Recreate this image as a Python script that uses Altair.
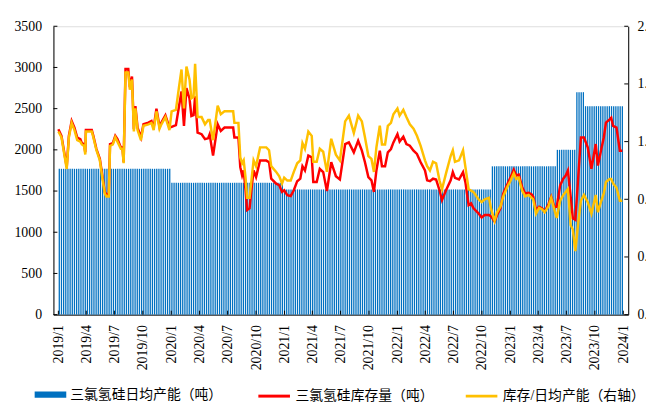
import altair as alt
import pandas as pd

# ---------------- data ----------------
series_names = ["三氯氢硅日均产能（吨）", "三氯氢硅库存量（吨）", "库存/日均产能（右轴）"]

line_dates = [
    "2019-01-01", "2019-01-11", "2019-01-28", "2019-02-04", "2019-02-13", "2019-02-22", "2019-03-03",
    "2019-03-13", "2019-03-18", "2019-03-25", "2019-03-29", "2019-03-31", "2019-04-19", "2019-04-24",
    "2019-05-04", "2019-05-15", "2019-05-23", "2019-05-31", "2019-06-05", "2019-06-13", "2019-06-17",
    "2019-06-26", "2019-07-04", "2019-07-11", "2019-07-22", "2019-07-27", "2019-07-31", "2019-08-06",
    "2019-08-15", "2019-08-20", "2019-08-27", "2019-09-02", "2019-09-07", "2019-09-14", "2019-09-25",
    "2019-10-03", "2019-10-19", "2019-10-29", "2019-11-05", "2019-11-14", "2019-11-24", "2019-11-30",
    "2019-12-13", "2019-12-26", "2020-01-02", "2020-01-16", "2020-01-26", "2020-02-03", "2020-02-11",
    "2020-02-19", "2020-02-29", "2020-03-06", "2020-03-13", "2020-03-18", "2020-03-26", "2020-04-08",
    "2020-04-19", "2020-04-29", "2020-05-04", "2020-05-15", "2020-05-30", "2020-06-09", "2020-06-21",
    "2020-07-19", "2020-07-23", "2020-08-05", "2020-08-11", "2020-08-17", "2020-08-22", "2020-08-28",
    "2020-09-02", "2020-09-10", "2020-09-17", "2020-09-23", "2020-10-01", "2020-10-14", "2020-11-03",
    "2020-11-12", "2020-11-19", "2020-12-05", "2020-12-15", "2020-12-24", "2020-12-31", "2021-01-10",
    "2021-01-21", "2021-01-31", "2021-02-11", "2021-02-21", "2021-02-28", "2021-03-08", "2021-03-19",
    "2021-03-30", "2021-04-04", "2021-04-15", "2021-04-25", "2021-05-06", "2021-05-18", "2021-06-01",
    "2021-06-16", "2021-06-29", "2021-07-16", "2021-07-28", "2021-08-13", "2021-08-27", "2021-09-08",
    "2021-09-18", "2021-09-29", "2021-10-09", "2021-10-17", "2021-10-25", "2021-11-05", "2021-11-12",
    "2021-11-22", "2021-12-01", "2021-12-11", "2021-12-19", "2022-01-01", "2022-01-08", "2022-01-20",
    "2022-01-30", "2022-02-10", "2022-02-22", "2022-03-05", "2022-03-17", "2022-03-31", "2022-04-07",
    "2022-04-16", "2022-04-26", "2022-05-06", "2022-05-17", "2022-05-25", "2022-06-07", "2022-06-22",
    "2022-06-29", "2022-07-06", "2022-07-19", "2022-08-01", "2022-08-09", "2022-08-19", "2022-08-27",
    "2022-09-04", "2022-09-20", "2022-09-30", "2022-10-10", "2022-10-24", "2022-10-31", "2022-11-11",
    "2022-11-19", "2022-11-30", "2022-12-09", "2022-12-23", "2023-01-02", "2023-01-12", "2023-01-20",
    "2023-01-28", "2023-02-08", "2023-02-18", "2023-03-01", "2023-03-11", "2023-03-16", "2023-03-25",
    "2023-04-04", "2023-04-14", "2023-04-22", "2023-05-04", "2023-05-13", "2023-05-23", "2023-05-31",
    "2023-06-11", "2023-06-21", "2023-06-29", "2023-07-06", "2023-07-15", "2023-07-22", "2023-07-30",
    "2023-08-07", "2023-08-17", "2023-08-27", "2023-09-08", "2023-09-20", "2023-10-04", "2023-10-11",
    "2023-10-22", "2023-10-30", "2023-11-06", "2023-11-18", "2023-11-23", "2023-11-29", "2023-12-10",
    "2023-12-21", "2023-12-29",
]

inventory = [
    2250, 2170, 1790, 2170, 2350, 2270, 2150, 2130, 2080, 2070, 1970, 2240, 2240, 2170,
    2010, 1890, 1690, 1490, 1460, 1460, 2070, 2080, 2170, 2130, 2030, 2030, 1850, 2980,
    2980, 2760, 2890, 2250, 2530, 2270, 2150, 2310, 2330, 2350, 2270, 2500, 2280, 2330,
    2420, 2270, 2280, 2300, 2530, 2710, 2290, 2750, 2620, 2410, 2420, 2650, 2210, 2190,
    2130, 2140, 2190, 1930, 2310, 2230, 2270, 2270, 2150, 2150, 1790, 1690, 1750, 1510,
    1270, 1290, 1550, 1750, 1670, 1870, 1870, 1850, 1650, 1590, 1570, 1490, 1510, 1450,
    1440, 1510, 1620, 1650, 1800, 1750, 1930, 1910, 1610, 1610, 1770, 1730, 1500, 1850,
    1680, 1640, 2070, 2090, 1970, 2110, 1990, 1850, 1670, 1630, 1490, 1750, 1990, 1800,
    1800, 1970, 2010, 2090, 2190, 2100, 2160, 2070, 2050, 1990, 1950, 1850, 1750, 1630,
    1620, 1650, 1640, 1510, 1390, 1510, 1630, 1730, 1660, 1640, 1730, 1600, 1330, 1350,
    1290, 1230, 1180, 1210, 1210, 1190, 1130, 1210, 1290, 1470, 1590, 1670, 1760, 1690,
    1700, 1550, 1470, 1480, 1460, 1430, 1270, 1310, 1290, 1250, 1340, 1430, 1310, 1310,
    1570, 1650, 1690, 1750, 1430, 1170, 1150, 1590, 2150, 2150, 2030, 1770, 2070, 1810,
    2010, 2150, 2330, 2370, 2390, 2290, 2270, 1990, 1990,
]

ratio = [
    1.27, 1.23, 1.01, 1.23, 1.33, 1.28, 1.21, 1.20, 1.18, 1.17, 1.11, 1.27, 1.27, 1.23,
    1.14, 1.07, 0.95, 0.84, 0.82, 0.82, 1.17, 1.18, 1.23, 1.20, 1.15, 1.15, 1.05, 1.68,
    1.68, 1.56, 1.63, 1.27, 1.43, 1.28, 1.21, 1.31, 1.32, 1.33, 1.28, 1.41, 1.29, 1.32,
    1.37, 1.28, 1.41, 1.42, 1.58, 1.70, 1.43, 1.72, 1.63, 1.50, 1.51, 1.74, 1.37, 1.37,
    1.32, 1.35, 1.35, 1.21, 1.45, 1.39, 1.41, 1.41, 1.33, 1.33, 1.09, 1.05, 1.07, 0.95,
    0.81, 0.81, 0.95, 1.07, 1.03, 1.16, 1.16, 1.14, 1.03, 0.99, 0.96, 0.91, 0.95, 0.93,
    0.93, 0.99, 1.05, 1.07, 1.19, 1.15, 1.27, 1.24, 1.06, 1.06, 1.15, 1.13, 0.99, 1.22,
    1.11, 1.07, 1.34, 1.38, 1.26, 1.38, 1.34, 1.23, 1.10, 1.08, 0.99, 1.16, 1.31, 1.18,
    1.18, 1.31, 1.33, 1.39, 1.43, 1.38, 1.42, 1.37, 1.32, 1.29, 1.24, 1.17, 1.07, 1.03,
    1.00, 1.06, 1.05, 0.93, 0.87, 0.98, 1.10, 1.14, 1.06, 1.07, 1.14, 1.02, 0.87, 0.86,
    0.85, 0.80, 0.78, 0.80, 0.81, 0.73, 0.65, 0.71, 0.75, 0.82, 0.89, 0.93, 0.98, 0.94,
    0.95, 0.86, 0.82, 0.83, 0.81, 0.80, 0.70, 0.74, 0.73, 0.71, 0.75, 0.81, 0.73, 0.67,
    0.79, 0.83, 0.85, 0.87, 0.62, 0.59, 0.44, 0.61, 0.79, 0.83, 0.78, 0.70, 0.83, 0.71,
    0.79, 0.84, 0.92, 0.94, 0.94, 0.91, 0.88, 0.79, 0.79,
]

# daily capacity: weekly bars, step levels and the date each level starts
capacity_start = ["2019-01-01", "2020-01-01", "2020-12-26", "2022-11-01", "2023-05-27", "2023-08-02", "2023-08-28"]
capacity_level = [1770, 1600, 1520, 1800, 2000, 2700, 2530]
first_week, last_week = "2019-01-04", "2023-12-29"

left_ticks = [0, 500, 1000, 1500, 2000, 2500, 3000, 3500]
right_ticks = [0.0, 0.4, 0.8, 1.2, 1.6, 2.0]
quarter_ticks = [
    "2019-01-01", "2019-04-01", "2019-07-01", "2019-10-01", "2020-01-01", "2020-04-01", "2020-07-01",
    "2020-10-01", "2021-01-01", "2021-04-01", "2021-07-01", "2021-10-01", "2022-01-01", "2022-04-01",
    "2022-07-01", "2022-10-01", "2023-01-01", "2023-04-01", "2023-07-01", "2023-10-01", "2024-01-01",
]

# ---------------- tables ----------------
weeks = pd.date_range(first_week, last_week, freq="7D")
starts = pd.to_datetime(capacity_start)
level_idx = starts.searchsorted(weeks, side="right") - 1
bars_df = pd.DataFrame({
    "date": weeks,
    "capacity": [capacity_level[i] for i in level_idx],
    "s1": series_names[0],
})
lines_df = pd.DataFrame({
    "date": pd.to_datetime(line_dates),
    "inventory": inventory,
    "ratio": ratio,
    "s2": series_names[1],
    "s3": series_names[2],
})
qdf = pd.DataFrame({"date": pd.to_datetime(quarter_ticks)})


def dt(s):
    t = pd.Timestamp(s)
    return alt.DateTime(year=t.year, month=t.month, date=t.day)


NUMFONT = "Liberation Serif"
LEGFONT = "Liberation Serif, Noto Sans CJK SC"
W, H = 582, 292

x_axis = alt.Axis(
    values=[dt(s) for s in quarter_ticks], format="%Y/%-m", labelAngle=270,
    labelFont=NUMFONT, labelFontSize=14, labelColor="black", labelPadding=10,
    labelOverlap=False, labelFlush=False, labelBound=False, ticks=False, tickSize=0,
    domainColor="black", domainWidth=1, grid=False, title=None,
)
x_scale = alt.Scale(domain=[dt("2019-01-01"), dt("2024-01-01")])


def xenc():
    return alt.X("date:T", scale=x_scale, axis=x_axis)


def legend(x, symbol, stroke_w):
    return alt.Legend(
        orient="none", legendX=x, legendY=357, title=None, direction="horizontal",
        labelFont=LEGFONT, labelFontSize=14, labelColor="black", labelOffset=4,
        labelLimit=400, padding=0, symbolSize=1024, symbolType=symbol,
        symbolStrokeWidth=stroke_w,
    )


left_axis = alt.Axis(
    values=left_ticks, format="d", labelFont=NUMFONT, labelFontSize=14, labelColor="black",
    labelPadding=12, ticks=False, tickSize=0, domainColor="black", domainWidth=1,
    grid=False, title=None, labelFlush=False,
)
left_scale = alt.Scale(domain=[0, 3500], nice=False)

bars = alt.Chart(bars_df).mark_bar(size=1.3).encode(
    x=xenc(),
    y=alt.Y("capacity:Q", scale=left_scale, axis=left_axis),
    fill=alt.Fill(
        "s1:N",
        scale=alt.Scale(domain=[series_names[0]], range=["#0070C0"]),
        legend=legend(-19, "M-1,-0.2H1V0.2H-1Z", 0),
    ),
)

red = alt.Chart(lines_df).mark_line(strokeWidth=2.5).encode(
    x=xenc(),
    y=alt.Y("inventory:Q", scale=left_scale, axis=left_axis),
    stroke=alt.Stroke(
        "s2:N",
        scale=alt.Scale(domain=[series_names[1]], range=["#FF0000"]),
        legend=legend(206, "stroke", 3),
    ),
)

left_tick_marks = alt.Chart(pd.DataFrame({"v": left_ticks})).mark_rule(color="black", strokeWidth=1).encode(
    y=alt.Y("v:Q", scale=left_scale, axis=left_axis), x=alt.value(0), x2=alt.value(4)
)
bottom_tick_marks = alt.Chart(qdf).mark_rule(color="black", strokeWidth=1).encode(
    x=xenc(), y=alt.value(H - 4), y2=alt.value(H)
)

left_group = alt.layer(bars, red, left_tick_marks, bottom_tick_marks)

right_axis = alt.Axis(
    orient="right", values=right_ticks, format=".1f", labelFont=NUMFONT,
    labelFontSize=14, labelColor="black", labelPadding=9, ticks=False, tickSize=0,
    domainColor="black", domainWidth=1, grid=False, title=None, labelFlush=False,
)
right_scale = alt.Scale(domain=[0, 2], nice=False)

yellow = alt.Chart(lines_df).mark_line(strokeWidth=2.5).encode(
    x=xenc(),
    y=alt.Y("ratio:Q", scale=right_scale, axis=right_axis),
    color=alt.Color(
        "s3:N",
        scale=alt.Scale(domain=[series_names[2]], range=["#FFC000"]),
        legend=legend(416, "stroke", 3),
    ),
)
right_tick_marks = alt.Chart(pd.DataFrame({"v": right_ticks})).mark_rule(color="black", strokeWidth=1).encode(
    y=alt.Y("v:Q", scale=right_scale, axis=right_axis), x=alt.value(W - 4), x2=alt.value(W)
)
right_group = alt.layer(yellow, right_tick_marks)

chart = (
    alt.layer(left_group, right_group)
    .resolve_scale(y="independent")
    .properties(
        width=W, height=H,
        autosize=alt.AutoSizeParams(type="none"),
        padding={"left": 46, "top": 16, "right": 18, "bottom": 89},
    )
    .configure_view(stroke=None)
    .configure_axisX(labelOverlap=False)
    .configure(background="white")
)

chart.save("out.html", embed_options={"renderer": "svg", "actions": False})
